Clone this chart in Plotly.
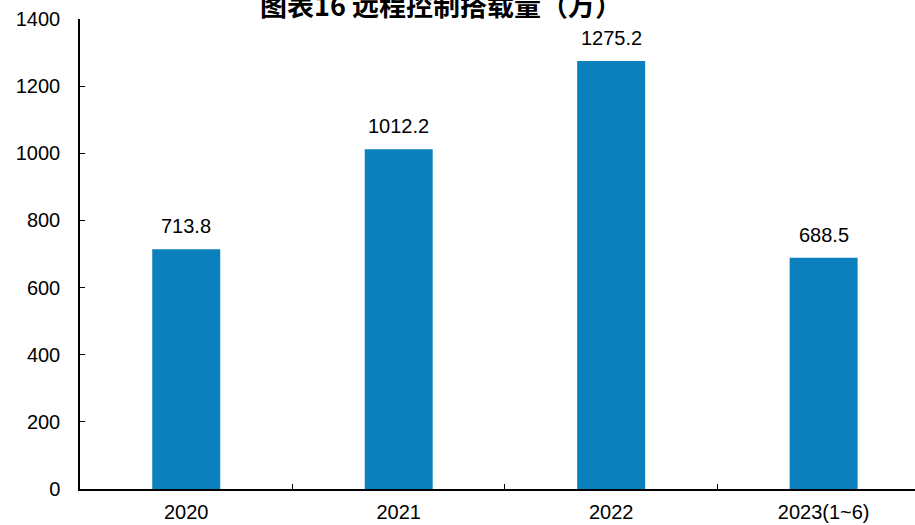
import plotly.graph_objects as go

# Remote-control fitment volume by year (unit: 10k)
years = ["2020", "2021", "2022", "2023(1~6)"]
volumes = [713.8, 1012.2, 1275.2, 688.5]
y_ticks = [0, 200, 400, 600, 800, 1000, 1200, 1400]

bar_color = "#0C80BD"
num_font = dict(family="Liberation Sans, Arial, sans-serif", size=20, color="#000000")

fig = go.Figure()
fig.add_trace(go.Bar(
    x=years,
    y=volumes,
    width=0.32,
    marker=dict(color=bar_color, line=dict(width=0)),
    hoverinfo="x+y",
))

# value labels above each bar (x given as category index)
annotations = [
    dict(x=i, y=v, xref="x", yref="y", text=f"{v:.1f}", showarrow=False,
         yanchor="bottom", yshift=10, font=num_font)
    for i, v in enumerate(volumes)
]

# chart title (sits above the plotting area)
annotations.append(dict(
    x=0.432, y=1.030, xref="paper", yref="paper", xanchor="center", yanchor="middle",
    text="<b>图表16 远程控制搭载量（万）</b>", showarrow=False,
    font=dict(family="Noto Sans CJK SC, sans-serif", size=27, color="#000000"),
))

fig.update_layout(
    width=915,
    height=525,
    margin=dict(l=80, r=0, t=19, b=36),
    paper_bgcolor="white",
    plot_bgcolor="white",
    showlegend=False,
    annotations=annotations,
    font=num_font,
)

fig.update_xaxes(
    type="category",
    range=[-0.5, 3.43],
    automargin=False,
    showline=True, linecolor="#000000", linewidth=1.5,
    ticks="inside", ticklen=5, tickcolor="#000000", tickwidth=1,
    tickson="boundaries",
    showgrid=False, zeroline=False,
    ticklabelstandoff=4,
    tickfont=num_font,
)

fig.update_yaxes(
    range=[0, 1400],
    tickvals=y_ticks,
    automargin=False,
    showline=True, linecolor="#000000", linewidth=1.5,
    ticks="inside", ticklen=5, tickcolor="#000000", tickwidth=1,
    showgrid=False, zeroline=False,
    ticklabelstandoff=14,
    tickfont=num_font,
)

fig.write_html("out.html")
